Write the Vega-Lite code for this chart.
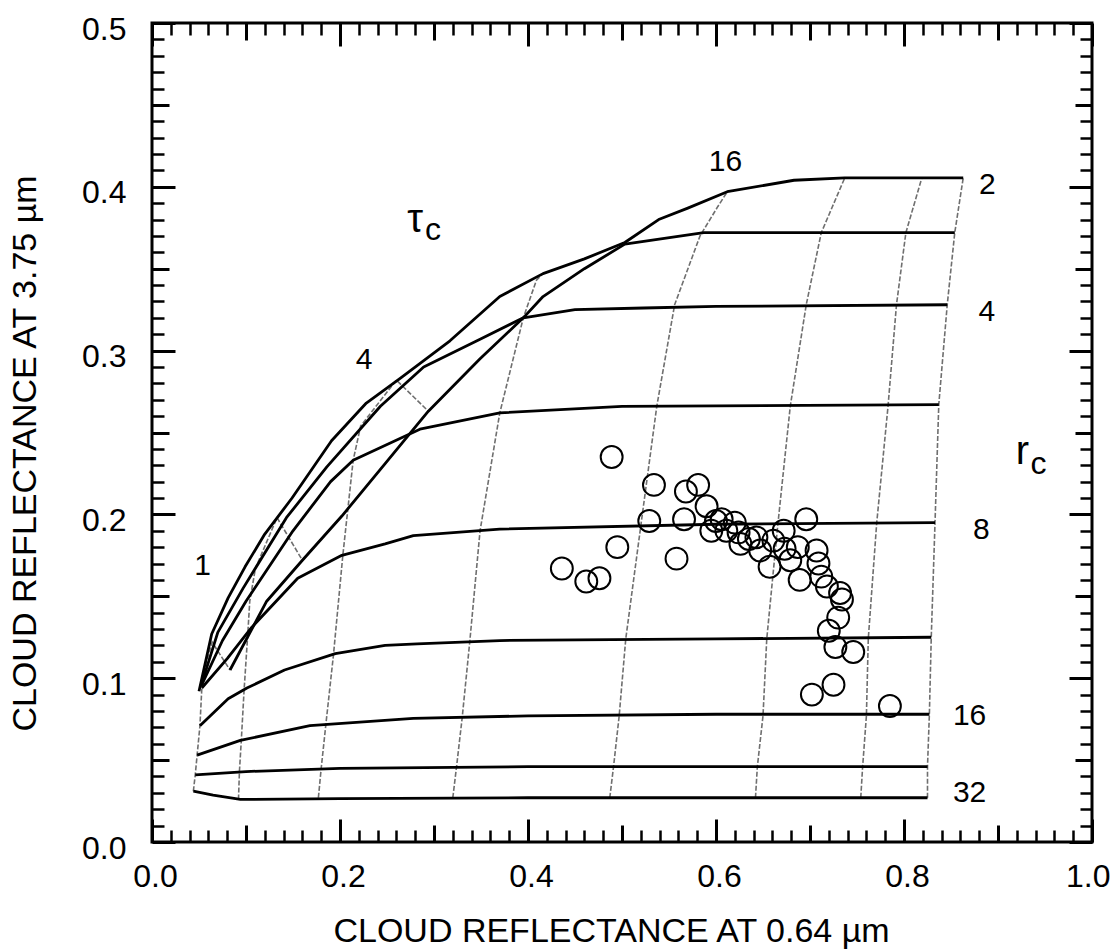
{
  "$schema": "https://vega.github.io/schema/vega-lite/v6.json",
  "width": 940,
  "height": 819,
  "autosize": {"type": "none"},
  "padding": {"left": 152, "top": 23, "right": 20, "bottom": 108},
  "background": "white",
  "config": {
    "view": {"stroke": "#000", "strokeWidth": 3},
    "axis": {"tickColor": "#000", "labelColor": "#000", "titleColor": "#000", "labelFont": "Liberation Sans", "titleFont": "Liberation Sans", "domain": false, "grid": false}
  },
  "resolve": {"axis": {"x": "independent", "y": "independent"}},
  "datasets": {
    "taulines": [
      {"tau": "1", "k": 1, "x": 0.044, "y": 0.031}, {"tau": "1", "k": 2, "x": 0.046, "y": 0.041}, {"tau": "1", "k": 3, "x": 0.048, "y": 0.053}, {"tau": "1", "k": 4, "x": 0.051, "y": 0.071}, {"tau": "1", "k": 5, "x": 0.053, "y": 0.094}, {"tau": "1", "k": 6, "x": 0.058, "y": 0.11}, {"tau": "1", "k": 7, "x": 0.064, "y": 0.122}, {"tau": "1", "k": 8, "x": 0.074, "y": 0.113}, {"tau": "1", "k": 9, "x": 0.083, "y": 0.105},
      {"tau": "2", "k": 1, "x": 0.092, "y": 0.026}, {"tau": "2", "k": 2, "x": 0.093, "y": 0.043}, {"tau": "2", "k": 3, "x": 0.095, "y": 0.062}, {"tau": "2", "k": 4, "x": 0.098, "y": 0.093}, {"tau": "2", "k": 5, "x": 0.102, "y": 0.128}, {"tau": "2", "k": 6, "x": 0.104, "y": 0.147}, {"tau": "2", "k": 7, "x": 0.11, "y": 0.167}, {"tau": "2", "k": 8, "x": 0.133, "y": 0.198}, {"tau": "2", "k": 9, "x": 0.16, "y": 0.172},
      {"tau": "4", "k": 1, "x": 0.177, "y": 0.027}, {"tau": "4", "k": 2, "x": 0.18, "y": 0.045}, {"tau": "4", "k": 3, "x": 0.185, "y": 0.072}, {"tau": "4", "k": 4, "x": 0.193, "y": 0.114}, {"tau": "4", "k": 5, "x": 0.203, "y": 0.175}, {"tau": "4", "k": 6, "x": 0.214, "y": 0.233}, {"tau": "4", "k": 7, "x": 0.222, "y": 0.254}, {"tau": "4", "k": 8, "x": 0.26, "y": 0.282}, {"tau": "4", "k": 9, "x": 0.294, "y": 0.263},
      {"tau": "8", "k": 1, "x": 0.32, "y": 0.027}, {"tau": "8", "k": 2, "x": 0.324, "y": 0.046}, {"tau": "8", "k": 3, "x": 0.33, "y": 0.076}, {"tau": "8", "k": 4, "x": 0.338, "y": 0.122}, {"tau": "8", "k": 5, "x": 0.349, "y": 0.19}, {"tau": "8", "k": 6, "x": 0.37, "y": 0.262}, {"tau": "8", "k": 7, "x": 0.395, "y": 0.32}, {"tau": "8", "k": 8, "x": 0.409, "y": 0.343}, {"tau": "8", "k": 9, "x": 0.416, "y": 0.347},
      {"tau": "16", "k": 1, "x": 0.487, "y": 0.027}, {"tau": "16", "k": 2, "x": 0.491, "y": 0.046}, {"tau": "16", "k": 3, "x": 0.497, "y": 0.077}, {"tau": "16", "k": 4, "x": 0.504, "y": 0.124}, {"tau": "16", "k": 5, "x": 0.52, "y": 0.193}, {"tau": "16", "k": 6, "x": 0.537, "y": 0.266}, {"tau": "16", "k": 7, "x": 0.556, "y": 0.328}, {"tau": "16", "k": 8, "x": 0.583, "y": 0.37}, {"tau": "16", "k": 9, "x": 0.602, "y": 0.388}, {"tau": "16", "k": 10, "x": 0.612, "y": 0.397},
      {"tau": "32", "k": 1, "x": 0.642, "y": 0.027}, {"tau": "32", "k": 2, "x": 0.644, "y": 0.046}, {"tau": "32", "k": 3, "x": 0.65, "y": 0.077}, {"tau": "32", "k": 4, "x": 0.654, "y": 0.124}, {"tau": "32", "k": 5, "x": 0.666, "y": 0.195}, {"tau": "32", "k": 6, "x": 0.679, "y": 0.266}, {"tau": "32", "k": 7, "x": 0.696, "y": 0.328}, {"tau": "32", "k": 8, "x": 0.712, "y": 0.372}, {"tau": "32", "k": 9, "x": 0.737, "y": 0.4055},
      {"tau": "64", "k": 1, "x": 0.754, "y": 0.027}, {"tau": "64", "k": 2, "x": 0.756, "y": 0.046}, {"tau": "64", "k": 3, "x": 0.76, "y": 0.077}, {"tau": "64", "k": 4, "x": 0.762, "y": 0.124}, {"tau": "64", "k": 5, "x": 0.771, "y": 0.195}, {"tau": "64", "k": 6, "x": 0.783, "y": 0.266}, {"tau": "64", "k": 7, "x": 0.792, "y": 0.328}, {"tau": "64", "k": 8, "x": 0.802, "y": 0.372}, {"tau": "64", "k": 9, "x": 0.819, "y": 0.4055},
      {"tau": "128", "k": 1, "x": 0.825, "y": 0.027}, {"tau": "128", "k": 2, "x": 0.825, "y": 0.046}, {"tau": "128", "k": 3, "x": 0.827, "y": 0.078}, {"tau": "128", "k": 4, "x": 0.829, "y": 0.125}, {"tau": "128", "k": 5, "x": 0.833, "y": 0.195}, {"tau": "128", "k": 6, "x": 0.837, "y": 0.267}, {"tau": "128", "k": 7, "x": 0.846, "y": 0.328}, {"tau": "128", "k": 8, "x": 0.854, "y": 0.372}, {"tau": "128", "k": 9, "x": 0.863, "y": 0.4055}
    ],
    "rlines": [
      {"r": "2", "k": 1, "x": 0.05, "y": 0.092}, {"r": "2", "k": 2, "x": 0.0635, "y": 0.127}, {"r": "2", "k": 3, "x": 0.081, "y": 0.149}, {"r": "2", "k": 4, "x": 0.099, "y": 0.168}, {"r": "2", "k": 5, "x": 0.12, "y": 0.188}, {"r": "2", "k": 6, "x": 0.149, "y": 0.21}, {"r": "2", "k": 7, "x": 0.191, "y": 0.245}, {"r": "2", "k": 8, "x": 0.228, "y": 0.268}, {"r": "2", "k": 9, "x": 0.264, "y": 0.283}, {"r": "2", "k": 10, "x": 0.317, "y": 0.306}, {"r": "2", "k": 11, "x": 0.37, "y": 0.333}, {"r": "2", "k": 12, "x": 0.416, "y": 0.347}, {"r": "2", "k": 13, "x": 0.46, "y": 0.356}, {"r": "2", "k": 14, "x": 0.503, "y": 0.366}, {"r": "2", "k": 15, "x": 0.539, "y": 0.38}, {"r": "2", "k": 16, "x": 0.57, "y": 0.387}, {"r": "2", "k": 17, "x": 0.612, "y": 0.397}, {"r": "2", "k": 18, "x": 0.683, "y": 0.404}, {"r": "2", "k": 19, "x": 0.737, "y": 0.4055}, {"r": "2", "k": 20, "x": 0.863, "y": 0.4055},
      {"r": "2.8", "k": 1, "x": 0.083, "y": 0.105}, {"r": "2.8", "k": 2, "x": 0.122, "y": 0.147}, {"r": "2.8", "k": 3, "x": 0.16, "y": 0.172}, {"r": "2.8", "k": 4, "x": 0.202, "y": 0.199}, {"r": "2.8", "k": 5, "x": 0.248, "y": 0.231}, {"r": "2.8", "k": 6, "x": 0.294, "y": 0.263}, {"r": "2.8", "k": 7, "x": 0.349, "y": 0.295}, {"r": "2.8", "k": 8, "x": 0.395, "y": 0.32}, {"r": "2.8", "k": 9, "x": 0.416, "y": 0.333}, {"r": "2.8", "k": 10, "x": 0.46, "y": 0.35}, {"r": "2.8", "k": 11, "x": 0.503, "y": 0.365}, {"r": "2.8", "k": 12, "x": 0.587, "y": 0.372}, {"r": "2.8", "k": 13, "x": 0.663, "y": 0.372}, {"r": "2.8", "k": 14, "x": 0.854, "y": 0.372},
      {"r": "4", "k": 1, "x": 0.052, "y": 0.095}, {"r": "4", "k": 2, "x": 0.07, "y": 0.128}, {"r": "4", "k": 3, "x": 0.097, "y": 0.155}, {"r": "4", "k": 4, "x": 0.143, "y": 0.198}, {"r": "4", "k": 5, "x": 0.186, "y": 0.229}, {"r": "4", "k": 6, "x": 0.243, "y": 0.266}, {"r": "4", "k": 7, "x": 0.289, "y": 0.29}, {"r": "4", "k": 8, "x": 0.349, "y": 0.307}, {"r": "4", "k": 9, "x": 0.395, "y": 0.32}, {"r": "4", "k": 10, "x": 0.45, "y": 0.325}, {"r": "4", "k": 11, "x": 0.523, "y": 0.326}, {"r": "4", "k": 12, "x": 0.6, "y": 0.327}, {"r": "4", "k": 13, "x": 0.846, "y": 0.328},
      {"r": "5.6", "k": 1, "x": 0.053, "y": 0.096}, {"r": "5.6", "k": 2, "x": 0.075, "y": 0.123}, {"r": "5.6", "k": 3, "x": 0.1, "y": 0.147}, {"r": "5.6", "k": 4, "x": 0.15, "y": 0.19}, {"r": "5.6", "k": 5, "x": 0.19, "y": 0.22}, {"r": "5.6", "k": 6, "x": 0.214, "y": 0.233}, {"r": "5.6", "k": 7, "x": 0.285, "y": 0.252}, {"r": "5.6", "k": 8, "x": 0.37, "y": 0.262}, {"r": "5.6", "k": 9, "x": 0.5, "y": 0.266}, {"r": "5.6", "k": 10, "x": 0.837, "y": 0.267},
      {"r": "8", "k": 1, "x": 0.053, "y": 0.094}, {"r": "8", "k": 2, "x": 0.08, "y": 0.112}, {"r": "8", "k": 3, "x": 0.106, "y": 0.131}, {"r": "8", "k": 4, "x": 0.155, "y": 0.161}, {"r": "8", "k": 5, "x": 0.202, "y": 0.175}, {"r": "8", "k": 6, "x": 0.248, "y": 0.182}, {"r": "8", "k": 7, "x": 0.278, "y": 0.187}, {"r": "8", "k": 8, "x": 0.37, "y": 0.191}, {"r": "8", "k": 9, "x": 0.6, "y": 0.194}, {"r": "8", "k": 10, "x": 0.833, "y": 0.195},
      {"r": "11", "k": 1, "x": 0.051, "y": 0.071}, {"r": "11", "k": 2, "x": 0.081, "y": 0.0875}, {"r": "11", "k": 3, "x": 0.101, "y": 0.094}, {"r": "11", "k": 4, "x": 0.141, "y": 0.105}, {"r": "11", "k": 5, "x": 0.195, "y": 0.115}, {"r": "11", "k": 6, "x": 0.248, "y": 0.12}, {"r": "11", "k": 7, "x": 0.282, "y": 0.121}, {"r": "11", "k": 8, "x": 0.37, "y": 0.123}, {"r": "11", "k": 9, "x": 0.6, "y": 0.124}, {"r": "11", "k": 10, "x": 0.829, "y": 0.125},
      {"r": "16", "k": 1, "x": 0.048, "y": 0.053}, {"r": "16", "k": 2, "x": 0.094, "y": 0.062}, {"r": "16", "k": 3, "x": 0.168, "y": 0.071}, {"r": "16", "k": 4, "x": 0.278, "y": 0.0755}, {"r": "16", "k": 5, "x": 0.4, "y": 0.077}, {"r": "16", "k": 6, "x": 0.6, "y": 0.078}, {"r": "16", "k": 7, "x": 0.827, "y": 0.078},
      {"r": "22", "k": 1, "x": 0.046, "y": 0.041}, {"r": "22", "k": 2, "x": 0.1, "y": 0.043}, {"r": "22", "k": 3, "x": 0.2, "y": 0.045}, {"r": "22", "k": 4, "x": 0.4, "y": 0.046}, {"r": "22", "k": 5, "x": 0.825, "y": 0.046},
      {"r": "32", "k": 1, "x": 0.044, "y": 0.031}, {"r": "32", "k": 2, "x": 0.065, "y": 0.0286}, {"r": "32", "k": 3, "x": 0.094, "y": 0.026}, {"r": "32", "k": 4, "x": 0.2, "y": 0.0265}, {"r": "32", "k": 5, "x": 0.4, "y": 0.027}, {"r": "32", "k": 6, "x": 0.825, "y": 0.027}
    ],
    "obs": [
      {"x": 0.489, "y": 0.235}, {"x": 0.534, "y": 0.218}, {"x": 0.568, "y": 0.214}, {"x": 0.581, "y": 0.218}, {"x": 0.529, "y": 0.196}, {"x": 0.566, "y": 0.197}, {"x": 0.495, "y": 0.18}, {"x": 0.558, "y": 0.173}, {"x": 0.436, "y": 0.167}, {"x": 0.462, "y": 0.159}, {"x": 0.476, "y": 0.161}, {"x": 0.59, "y": 0.205}, {"x": 0.595, "y": 0.19}, {"x": 0.606, "y": 0.197}, {"x": 0.611, "y": 0.19}, {"x": 0.62, "y": 0.195}, {"x": 0.624, "y": 0.189}, {"x": 0.626, "y": 0.182}, {"x": 0.643, "y": 0.186}, {"x": 0.647, "y": 0.178}, {"x": 0.661, "y": 0.184}, {"x": 0.657, "y": 0.168}, {"x": 0.672, "y": 0.19}, {"x": 0.673, "y": 0.179}, {"x": 0.696, "y": 0.197}, {"x": 0.687, "y": 0.18}, {"x": 0.679, "y": 0.172}, {"x": 0.689, "y": 0.16}, {"x": 0.707, "y": 0.178}, {"x": 0.709, "y": 0.17}, {"x": 0.712, "y": 0.162}, {"x": 0.718, "y": 0.156}, {"x": 0.732, "y": 0.152}, {"x": 0.73, "y": 0.137}, {"x": 0.72, "y": 0.129}, {"x": 0.727, "y": 0.119}, {"x": 0.746, "y": 0.116}, {"x": 0.702, "y": 0.09}, {"x": 0.725, "y": 0.096}, {"x": 0.785, "y": 0.083}, {"x": 0.6, "y": 0.196}, {"x": 0.635, "y": 0.185}, {"x": 0.734, "y": 0.148}
    ],
    "rlabels": [
      {"t": "2", "x": 0.8886, "y": 0.401}, {"t": "4", "x": 0.888, "y": 0.3235}, {"t": "8", "x": 0.8823, "y": 0.1905}, {"t": "16", "x": 0.8698, "y": 0.0768}, {"t": "32", "x": 0.8698, "y": 0.0301}
    ],
    "taulabels": [
      {"t": "1", "x": 0.0537, "y": 0.1685}, {"t": "4", "x": 0.2257, "y": 0.294}, {"t": "16", "x": 0.61, "y": 0.415}
    ],
    "sym": [
      {"t": "τ", "x": 0.28, "y": 0.38}, {"t": "r", "x": 0.926, "y": 0.238}
    ],
    "subs": [
      {"t": "c", "x": 0.299, "y": 0.3735}, {"t": "c", "x": 0.943, "y": 0.231}
    ]
  },
  "layer": [
    {
      "data": {"name": "taulines"},
      "mark": {"type": "line", "stroke": "#6f6f6f", "strokeWidth": 1.6, "strokeDash": [5, 2]},
      "encoding": {
        "x": {"field": "x", "type": "quantitative", "scale": {"domain": [0, 1], "nice": false, "zero": false},
          "axis": {"orient": "bottom", "values": [0.02,0.04,0.06,0.08,0.12,0.14,0.16,0.18,0.22,0.24,0.26,0.28,0.32,0.34,0.36,0.38,0.42,0.44,0.46,0.48,0.52,0.54,0.56,0.58,0.62,0.64,0.66,0.68,0.72,0.74,0.76,0.78,0.82,0.84,0.86,0.88,0.92,0.94,0.96,0.98], "labels": false, "tickSize": -12, "tickWidth": 2.5, "title": null}},
        "y": {"field": "y", "type": "quantitative", "scale": {"domain": [0, 0.5], "nice": false, "zero": false},
          "axis": {"orient": "left", "values": [0.01,0.02,0.03,0.04,0.06,0.07,0.08,0.09,0.11,0.12,0.13,0.14,0.16,0.17,0.18,0.19,0.21,0.22,0.23,0.24,0.26,0.27,0.28,0.29,0.31,0.32,0.33,0.34,0.36,0.37,0.38,0.39,0.41,0.42,0.43,0.44,0.46,0.47,0.48,0.49], "labels": false, "tickSize": -12, "tickWidth": 2.5, "title": null}},
        "detail": {"field": "tau", "type": "nominal"},
        "order": {"field": "k", "type": "quantitative"}
      }
    },
    {
      "data": {"name": "rlines"},
      "mark": {"type": "line", "stroke": "#000", "strokeWidth": 2.8, "strokeJoin": "round"},
      "encoding": {
        "x": {"field": "x", "type": "quantitative", "scale": {"domain": [0, 1], "nice": false, "zero": false},
          "axis": {"orient": "bottom", "values": [0.1, 0.3, 0.5, 0.7, 0.9], "labels": false, "tickSize": -17, "tickWidth": 3, "title": null}},
        "y": {"field": "y", "type": "quantitative", "scale": {"domain": [0, 0.5], "nice": false, "zero": false},
          "axis": {"orient": "left", "values": [0.05, 0.15, 0.25, 0.35, 0.45], "labels": false, "tickSize": -17, "tickWidth": 3, "title": null}},
        "detail": {"field": "r", "type": "nominal"},
        "order": {"field": "k", "type": "quantitative"}
      }
    },
    {
      "data": {"name": "obs"},
      "mark": {"type": "point", "shape": "circle", "filled": false, "stroke": "#000", "strokeWidth": 2, "size": 480, "opacity": 1},
      "encoding": {
        "x": {"field": "x", "type": "quantitative", "scale": {"domain": [0, 1], "nice": false, "zero": false},
          "axis": {"orient": "bottom", "values": [0, 0.2, 0.4, 0.6, 0.8, 1], "labels": false, "tickSize": -23, "tickWidth": 3, "title": null}},
        "y": {"field": "y", "type": "quantitative", "scale": {"domain": [0, 0.5], "nice": false, "zero": false},
          "axis": {"orient": "left", "values": [0, 0.1, 0.2, 0.3, 0.4, 0.5], "labels": false, "tickSize": -23, "tickWidth": 3, "title": null}}
      }
    },
    {
      "data": {"name": "rlabels"},
      "mark": {"type": "text", "font": "Liberation Sans", "fontSize": 30, "align": "center", "baseline": "middle", "color": "#000"},
      "encoding": {
        "x": {"field": "x", "type": "quantitative", "scale": {"domain": [0, 1], "nice": false, "zero": false},
          "axis": {"orient": "bottom", "values": [0, 0.2, 0.4, 0.6, 0.8, 1], "format": ".1f", "ticks": false, "labels": true, "labelFontSize": 32, "labelPadding": 19,
            "labelAlign": {"condition": {"test": "datum.value >= 0.99", "value": "right"}, "value": "center"},
            "labelOffset": {"condition": {"test": "datum.value >= 0.99", "value": 18}, "value": 3},
            "labelFlush": false, "labelOverlap": false, "labelBound": false,
            "title": "CLOUD REFLECTANCE AT 0.64 µm", "titleFontSize": 34, "titleFontWeight": "normal", "titleX": 459, "titleY": 99, "titleBaseline": "alphabetic", "titleAlign": "center"}},
        "y": {"field": "y", "type": "quantitative", "scale": {"domain": [0, 0.5], "nice": false, "zero": false},
          "axis": {"orient": "left", "values": [0, 0.1, 0.2, 0.3, 0.4, 0.5], "format": ".1f", "ticks": false, "labels": true, "labelFontSize": 32, "labelPadding": 26, "labelOffset": 6, "labelFlush": false, "labelOverlap": false, "labelBound": false,
            "title": "CLOUD REFLECTANCE AT 3.75 µm", "titleFontSize": 34, "titleFontWeight": "normal", "titleX": -117, "titleY": 430, "titleAngle": 270, "titleBaseline": "alphabetic", "titleAlign": "center"}},
        "text": {"field": "t", "type": "nominal"}
      }
    },
    {
      "data": {"name": "taulabels"},
      "mark": {"type": "text", "font": "Liberation Sans", "fontSize": 30, "align": "center", "baseline": "middle", "color": "#000"},
      "encoding": {
        "x": {"field": "x", "type": "quantitative", "scale": {"domain": [0, 1], "nice": false, "zero": false},
          "axis": {"orient": "top", "values": [0.02,0.04,0.06,0.08,0.12,0.14,0.16,0.18,0.22,0.24,0.26,0.28,0.32,0.34,0.36,0.38,0.42,0.44,0.46,0.48,0.52,0.54,0.56,0.58,0.62,0.64,0.66,0.68,0.72,0.74,0.76,0.78,0.82,0.84,0.86,0.88,0.92,0.94,0.96,0.98], "labels": false, "tickSize": -12, "tickWidth": 2.5, "title": null}},
        "y": {"field": "y", "type": "quantitative", "scale": {"domain": [0, 0.5], "nice": false, "zero": false},
          "axis": {"orient": "right", "values": [0.01,0.02,0.03,0.04,0.06,0.07,0.08,0.09,0.11,0.12,0.13,0.14,0.16,0.17,0.18,0.19,0.21,0.22,0.23,0.24,0.26,0.27,0.28,0.29,0.31,0.32,0.33,0.34,0.36,0.37,0.38,0.39,0.41,0.42,0.43,0.44,0.46,0.47,0.48,0.49], "labels": false, "tickSize": -12, "tickWidth": 2.5, "title": null}},
        "text": {"field": "t", "type": "nominal"}
      }
    },
    {
      "data": {"name": "sym"},
      "mark": {"type": "text", "font": "Liberation Sans", "fontSize": 40, "align": "center", "baseline": "middle", "color": "#000"},
      "encoding": {
        "x": {"field": "x", "type": "quantitative", "scale": {"domain": [0, 1], "nice": false, "zero": false},
          "axis": {"orient": "top", "values": [0.1, 0.3, 0.5, 0.7, 0.9], "labels": false, "tickSize": -17, "tickWidth": 3, "title": null}},
        "y": {"field": "y", "type": "quantitative", "scale": {"domain": [0, 0.5], "nice": false, "zero": false},
          "axis": {"orient": "right", "values": [0.05, 0.15, 0.25, 0.35, 0.45], "labels": false, "tickSize": -17, "tickWidth": 3, "title": null}},
        "text": {"field": "t", "type": "nominal"}
      }
    },
    {
      "data": {"name": "subs"},
      "mark": {"type": "text", "font": "Liberation Sans", "fontSize": 32, "align": "center", "baseline": "middle", "color": "#000"},
      "encoding": {
        "x": {"field": "x", "type": "quantitative", "scale": {"domain": [0, 1], "nice": false, "zero": false},
          "axis": {"orient": "top", "values": [0, 0.2, 0.4, 0.6, 0.8, 1], "labels": false, "tickSize": -23, "tickWidth": 3, "title": null}},
        "y": {"field": "y", "type": "quantitative", "scale": {"domain": [0, 0.5], "nice": false, "zero": false},
          "axis": {"orient": "right", "values": [0, 0.1, 0.2, 0.3, 0.4, 0.5], "labels": false, "tickSize": -23, "tickWidth": 3, "title": null}},
        "text": {"field": "t", "type": "nominal"}
      }
    }
  ]
}
